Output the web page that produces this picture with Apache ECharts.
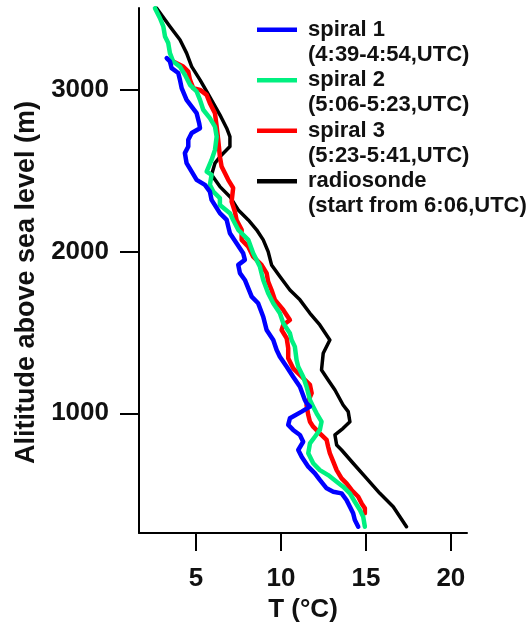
<!DOCTYPE html>
<html>
<head>
<meta charset="utf-8">
<script src="https://cdn.jsdelivr.net/npm/echarts@6/dist/echarts.min.js"></script>
<style>html,body{margin:0;padding:0;background:#fff}#c{width:528px;height:624px}</style>
</head>
<body>
<div id="c"></div>
<script>
// Temperature (°C) and altitude (m)
const spiral1T   = [3.28,3.47,3.57,3.96,4.06,4.16,4.45,4.75,5.04,5.19,5.24,4.75,4.55,4.55,4.35,4.45,4.75,5.04,5.53,5.82,5.92,6.41,6.81,7.00,7.39,7.78,7.88,7.49,7.59,7.88,8.28,8.66,8.96,9.16,9.55,9.75,9.94,10.34,10.72,11.12,11.41,11.51,11.71,11.22,10.53,10.43,10.72,11.12,11.31,11.02,11.22,11.61,12.00,12.29,12.69,13.08,13.57,13.86,14.06,14.25,14.35,14.55];
const spiral1Alt = [3195,3174,3133,3103,3061,3010,2937,2896,2855,2793,2762,2732,2690,2649,2608,2546,2494,2443,2412,2370,2319,2237,2195,2113,2051,1989,1948,1917,1866,1824,1721,1680,1597,1515,1453,1391,1350,1288,1226,1164,1082,1062,1041,1010,969,928,897,866,824,773,732,670,629,588,536,515,505,464,422,382,340,299];

const spiral2T   = [2.59,2.88,3.08,3.18,3.37,3.47,3.66,4.06,4.35,4.65,5.04,5.24,5.43,5.82,6.12,6.22,6.12,5.92,5.63,5.92,5.82,6.02,6.41,6.41,7.00,7.19,7.49,8.08,8.37,8.76,8.96,9.25,9.55,9.94,10.14,10.53,10.63,10.82,10.92,11.02,11.31,11.51,11.71,11.90,12.10,12.39,12.29,12.00,11.71,11.61,11.90,12.29,12.78,13.28,13.66,14.06,14.35,14.65,14.84,14.94];
const spiral2Alt = [3504,3443,3391,3329,3288,3226,3174,3143,3092,3030,2989,2937,2876,2824,2772,2710,2628,2566,2494,2474,2412,2370,2330,2288,2237,2195,2134,2072,1989,1907,1824,1742,1680,1618,1557,1495,1453,1412,1330,1288,1226,1164,1082,1041,1000,948,897,855,814,753,691,649,618,577,546,505,453,402,361,299];

const spiral3T   = [3.66,4.25,4.55,4.65,4.84,5.24,5.63,5.82,6.12,6.22,6.31,6.41,6.51,6.71,6.90,7.19,7.10,7.29,7.39,7.69,7.69,8.08,8.37,8.86,9.16,9.25,9.45,9.65,10.14,10.53,10.14,10.04,10.34,10.43,10.43,10.72,11.22,11.71,11.81,11.51,11.61,11.71,11.90,12.29,12.69,12.78,12.88,13.08,13.28,13.57,13.86,14.16,14.55,14.75,14.94,14.94];
const spiral3Alt = [3174,3143,3112,3061,3010,2999,2968,2917,2855,2772,2690,2587,2525,2484,2443,2393,2309,2247,2195,2134,2072,2030,1968,1917,1866,1814,1762,1701,1639,1577,1546,1515,1464,1402,1340,1278,1226,1175,1124,1051,989,948,917,876,835,793,753,701,649,598,567,526,484,443,413,382];

const sondeT   = [2.69,3.47,4.06,4.45,4.75,5.24,5.63,6.02,6.41,6.81,7.00,7.00,6.51,6.12,5.92,6.41,7.00,7.49,8.08,8.57,8.96,9.25,9.45,9.94,10.53,11.12,11.71,12.29,12.88,12.49,12.39,12.78,13.18,13.66,13.96,14.06,13.66,13.18,13.28,13.57,14.25,15.04,15.82,16.61,17.00,17.39];
const sondeAlt = [3504,3391,3309,3226,3143,3061,2989,2917,2845,2762,2710,2649,2597,2546,2474,2401,2339,2257,2195,2134,2072,1999,1917,1845,1762,1701,1618,1546,1453,1371,1268,1206,1144,1051,1010,948,907,866,804,773,691,598,505,422,361,299];

const seriesNames = ['spiral 1','spiral 2','spiral 3','radiosonde'];
const seriesTimes = ['(4:39-4:54,UTC)','(5:06-5:23,UTC)','(5:23-5:41,UTC)','(start from 6:06,UTC)'];
const xTicks = [5,10,15,20];
const yTicks = [1000,2000,3000];

const zip = (a,b) => a.map((v,i)=>[v,b[i]]);
const allData = [zip(spiral1T,spiral1Alt), zip(spiral2T,spiral2Alt), zip(spiral3T,spiral3Alt), zip(sondeT,sondeAlt)];
const colors = ['#0000FF','#00F080','#FF0000','#000000'];
const widths = [4.5,4.5,4.5,3.5];
const FONT = 'Liberation Sans, Arial, Helvetica, sans-serif';

const chart = echarts.init(document.getElementById('c'), null, {renderer:'canvas'});
chart.setOption({
  animation:false,
  backgroundColor:'#fff',
  grid:{left:139,right:61,top:8,bottom:91,containLabel:false,outerBoundsMode:'none'},
  legend:{
    orient:'vertical', left:257, top:17, padding:0,
    itemWidth:46, itemHeight:50, itemGap:0.5,
    icon:'path://M0,10.5L40,10.5L40,15L0,15ZM0,0M46,50',
    itemStyle:{borderWidth:0},
    data:seriesNames,
    formatter:(n)=> n + '\n' + seriesTimes[seriesNames.indexOf(n)],
    textStyle:{fontSize:22,fontWeight:'bold',fontFamily:FONT,color:'#111',lineHeight:25}
  },
  xAxis:{
    type:'value', min:1.65, max:20.95,
    name:'T (°C)', nameLocation:'middle', nameGap:57,
    nameTextStyle:{fontSize:26,fontWeight:'bold',fontFamily:FONT,color:'#111'},
    axisLine:{onZero:false,lineStyle:{color:'#000',width:2}},
    axisTick:{show:true,inside:false,length:18,lineStyle:{color:'#000',width:2},customValues:xTicks},
    axisLabel:{fontSize:26,fontWeight:'bold',fontFamily:FONT,color:'#111',margin:33,customValues:xTicks,formatter:(v)=>String(v)},
    splitLine:{show:false}
  },
  yAxis:{
    type:'value', min:260, max:3505,
    name:'Alititude above sea level (m)', nameLocation:'middle', nameGap:92,
    nameTextStyle:{fontSize:27,fontWeight:'bold',fontFamily:FONT,color:'#111',padding:[0,24,0,0]},
    axisLine:{onZero:false,lineStyle:{color:'#000',width:2}},
    axisTick:{show:true,inside:false,length:19,lineStyle:{color:'#000',width:2},customValues:yTicks},
    axisLabel:{fontSize:26,fontWeight:'bold',fontFamily:FONT,color:'#111',margin:30,customValues:yTicks,formatter:(v)=>String(v)},
    splitLine:{show:false}
  },
  series: seriesNames.map((n,i)=>({
    name:n, type:'line', data:allData[i], showSymbol:false, symbol:'none',
    color:colors[i],
    lineStyle:{color:colors[i],width:widths[i],join:'round',cap:'round'},
    z: 10-i
  }))
});
</script>
</body>
</html>
